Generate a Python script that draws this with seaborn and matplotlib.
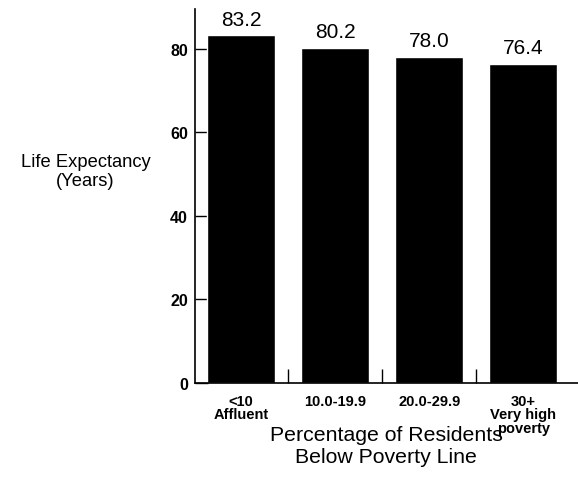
import matplotlib
matplotlib.use("Agg")
import matplotlib.pyplot as plt
import seaborn as sns
import pandas as pd

# data
groups = ["<10\nAffluent", "10.0-19.9", "20.0-29.9", "30+\nVery high\npoverty"]
life_exp = [83.2, 80.2, 78.0, 76.4]
y_ticks = [0, 20, 40, 60, 80]

df = pd.DataFrame({"group": groups, "years": life_exp})

sns.set_style("white")
plt.rcParams['font.family'] = ['Liberation Sans', 'DejaVu Sans']
plt.rcParams['text.color'] = 'black'
plt.rcParams['ytick.color'] = 'black'
plt.rcParams['xtick.color'] = 'black'

fig = plt.figure(figsize=(5.78, 4.81), dpi=100)
ax = fig.add_axes([0.337, 0.202, 0.663, 0.777])

sns.barplot(data=df, x="group", y="years", color="black", width=0.72,
            saturation=1, ax=ax)

for i, v in enumerate(life_exp):
    ax.text(i, v + 1.6, f"{v:.1f}", ha="center", va="bottom", fontsize=15)

ax.set_xlim(-0.49, 3.58)
ax.set_ylim(0, 89.5)
ax.set_yticks(y_ticks)
ax.set_yticklabels([str(t) for t in y_ticks], fontsize=11.5, fontweight="bold")

# ticks between bars, pointing up
ax.set_xticks([0.5, 1.5, 2.5])
ax.set_xticklabels([])
ax.tick_params(axis="x", direction="in", length=10, width=1, color="black", bottom=True)
ax.tick_params(axis="y", direction="in", length=9, width=1, color="black", left=True, pad=5)
for i, g in enumerate(groups):
    ax.text(i, -2.6, g, ha="center", va="top", fontsize=10.5, fontweight="bold",
            linespacing=0.95)

sns.despine(ax=ax, top=True, right=True)
ax.spines["left"].set_linewidth(1.2)
ax.spines["bottom"].set_linewidth(1.2)
ax.spines["left"].set_color("black")
ax.spines["bottom"].set_color("black")

ax.set_xlabel("")
ax.set_ylabel("")
fig.text(0.148, 0.642, "Life Expectancy\n(Years)", ha="center", va="center",
         fontsize=13.2, linespacing=1.2)
fig.text(0.668, 0.072, "Percentage of Residents\nBelow Poverty Line", ha="center",
         va="center", fontsize=15.3, linespacing=1.2)

fig.savefig("out.png", dpi=100)
